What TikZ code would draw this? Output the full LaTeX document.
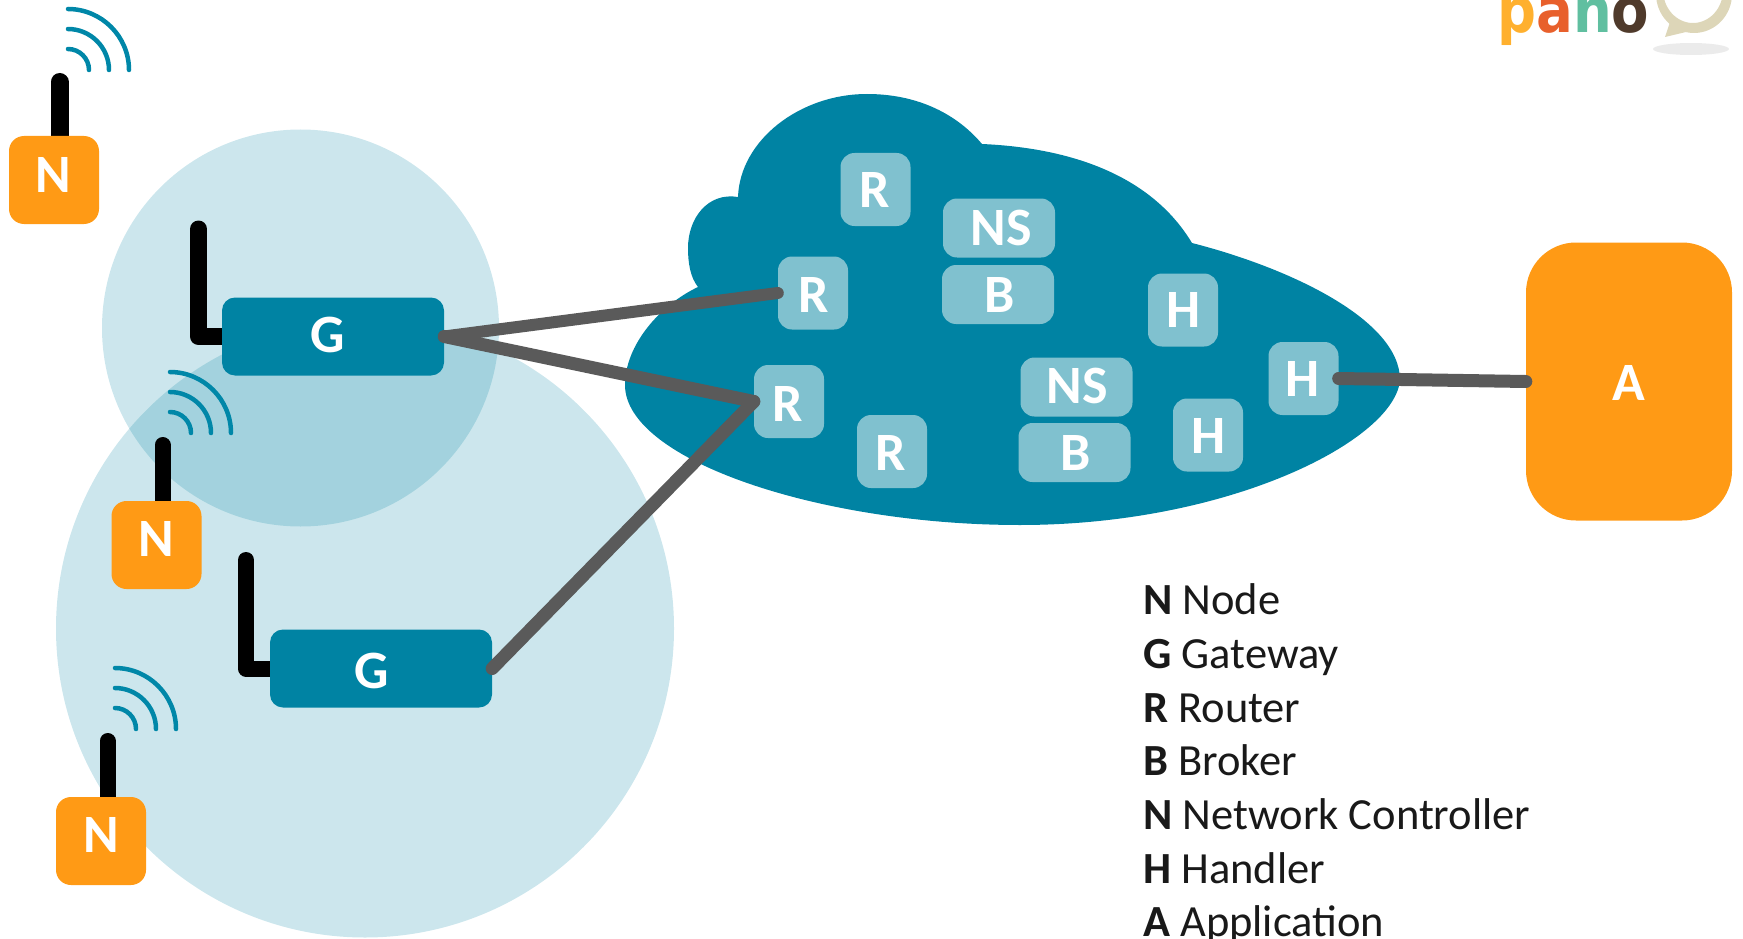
\documentclass[tikz,border=0pt]{standalone}
\usepackage{fontspec}
\setmainfont{Carlito}
\newfontfamily\logofont{DejaVu Sans}
\pgfdeclarelayer{zones}
\pgfdeclarelayer{aerials}
\pgfsetlayers{zones,aerials,main}
\definecolor{teal}{HTML}{0083A3}
\definecolor{wifiblue}{HTML}{0087A8}
\definecolor{pale}{HTML}{80C1CF}
\definecolor{orangebox}{HTML}{FF9A15}
\definecolor{wire}{HTML}{5A5A5A}
\definecolor{bubble}{HTML}{DDD6B8}
\tikzset{
  zone/.style={fill=teal,fill opacity=0.2},
  nbox/.style={fill=orangebox,rounded corners=15pt,minimum width=90pt,minimum height=88pt,inner sep=0pt},
  gbox/.style={fill=teal,rounded corners=13pt,minimum width=222pt,minimum height=78pt,inner sep=0pt},
  rbox/.style={fill=pale,rounded corners=14pt,minimum width=70pt,minimum height=73pt,inner sep=0pt},
  wbox/.style={fill=pale,rounded corners=14pt,minimum width=112pt,minimum height=59pt,inner sep=0pt},
  abox/.style={fill=orangebox,rounded corners=50pt,minimum width=206pt,minimum height=278pt,inner sep=0pt},
  lab/.style={text=white,font=\fontsize{54}{54}\selectfont\bfseries,inner sep=0pt,text height=35pt,text depth=0pt},
  aerial/.style={draw=black,line width=16pt,line cap=round,line join=round},
  wave/.style={draw=wifiblue,line width=4.5pt,line cap=round},
  link/.style={draw=wire,line width=13pt,line cap=round},
  legend/.style={anchor=base west,inner sep=0pt,text=black!90,font=\fontsize{44.5}{44.5}\selectfont},
}
\newcommand{\wifiarcs}[1]{%
  \begin{scope}[shift={(#1)}]
    \foreach \r in {21,41,61}
      \draw[wave] (0,-\r) .. controls ({.55*\r},-\r) and (\r,{-.55*\r}) .. (\r,0);
  \end{scope}}
\begin{document}
\begin{tikzpicture}[x=1pt,y=-1pt]
\useasboundingbox (0,0) rectangle (1743,939);
% coverage zones
\begin{pgfonlayer}{zones}
\fill[zone] (365,628.5) circle (309pt);
\fill[zone] (300.5,328) circle (198.5pt);
\end{pgfonlayer}
% cloud
\fill[teal] (982,144) .. controls (1050,147) and (1145,165) .. (1192,243)
  .. controls (1290,268) and (1400,320) .. (1400,380)
  .. controls (1395,440) and (1230,525) .. (1020,525)
  .. controls (820,525) and (625,460) .. (625,385)
  .. controls (625,345) and (660,305) .. (698,287)
  .. controls (690,277) and (688,262) .. (688,248)
  .. controls (688,218) and (708,192) .. (738,197)
  .. controls (740,140) and (800,94) .. (867,94)
  .. controls (915,94) and (955,112) .. (982,144) -- cycle;
% end devices
\node[nbox] (N1) at (54,180) {};
\node[nbox] (N2) at (156.5,545) {};
\node[nbox] (N3) at (101,841) {};
\node[lab] (N1t) at (53.5,175) {N};
\node[lab] (N2t) at (156.5,538.5) {N};
\node[lab] (N3t) at (101.5,835) {N};
\coordinate (a1) at (59.5,82);
\coordinate (a2) at (162.5,445);
\coordinate (a3) at (107.5,741);
\begin{pgfonlayer}{aerials}
\draw[aerial,line width=18pt] (a1) -- (a1 |- N1.center);
\draw[aerial] (a2) -- (a2 |- N2.center);
\draw[aerial] (a3) -- (a3 |- N3.center);
\end{pgfonlayer}
\wifiarcs{68,70}
\wifiarcs{170,433}
\wifiarcs{115,729}
% gateways
\node[gbox] (G1) at (333,336.5) {};
\node[gbox] (G2) at (381,668.5) {};
\node[lab] (G1t) at (328,335) {G};
\node[lab] (G2t) at (372,671) {G};
\coordinate (g1a) at (198.5,229);
\coordinate (g2a) at (246,560);
\begin{pgfonlayer}{aerials}
\draw[aerial,line width=17pt] (g1a) |- (G1.center);
\draw[aerial] (g2a) |- (G2.center);
\end{pgfonlayer}
% routers
\node[rbox] (R1) at (875.5,189.5) {};
\node[rbox] (R2) at (813,293) {};
\node[rbox] (R3) at (789,401.5) {};
\node[rbox] (R4) at (892,451.5) {};
\node[lab] (R1t) at (874.5,190) {R};
\node[lab] (R2t) at (813.5,294.5) {R};
\node[lab] (R3t) at (787.5,404) {R};
\node[lab] (R4t) at (891,452.5) {R};
% network servers and brokers
\node[wbox] (NS1) at (999,228) {};
\node[wbox] (B1) at (998,294.5) {};
\node[wbox] (NS2) at (1076.5,387) {};
\node[wbox] (B2) at (1074.5,452.5) {};
\node[lab] (NS1t) at (1001,228) {NS};
\node[lab] (B1t) at (1000,294.5) {B};
\node[lab] (NS2t) at (1077,386) {NS};
\node[lab] (B2t) at (1076,453) {B};
% handlers
\node[rbox] (H1) at (1303.5,378.5) {};
\node[rbox] (H2) at (1183,310) {};
\node[rbox] (H3) at (1208,435) {};
\node[lab] (H1t) at (1303,379) {H};
\node[lab] (H2t) at (1184,309.5) {H};
\node[lab] (H3t) at (1209,436) {H};
% application
\node[abox] (A) at (1629,381.5) {};
\node[lab] (At) at (1629,382.5) {A};
% links
\draw[link,line width=12pt] (G1.east) -- (R2.west);
\draw[link] (G1.east) -- (R3.west);
\draw[link] (G2.east) -- (R3.west);
\draw[link] (H1.east) -- (A.west);
% legend
\node[legend] (l1) at (1143,614) {\textbf{N} Node};
\node[legend] (l2) at (1143,668) {\textbf{G} Gateway};
\node[legend] (l3) at (1143,722) {\textbf{R} Router};
\node[legend] (l4) at (1143,775) {\textbf{B} Broker};
\node[legend] (l5) at (1143,829) {\textbf{N} Network Controller};
\node[legend] (l6) at (1143,883) {\textbf{H} Handler};
\node[legend] (l7) at (1143,936.5) {\textbf{A} Application};
% logo
\fill[black!8] (1691,49) ellipse (38pt and 6pt);
\fill[bubble,even odd rule] (1694,-6) ellipse (38pt and 39pt) (1693,-10) ellipse (30pt and 33pt);
\fill[bubble] (1670,22) -- (1665,37) -- (1686,32) -- cycle;
\node[anchor=base west,inner sep=0pt,font=\logofont\fontsize{54.5}{54.5}\selectfont\bfseries] (logo) at (1497,33)
  {\scalebox{1}[1.15]{\textcolor[HTML]{FFB02E}{p}\textcolor[HTML]{E8602C}{a}\textcolor[HTML]{60BFA0}{n}\textcolor[HTML]{4F3A2B}{o}}};
\end{tikzpicture}
\end{document}
